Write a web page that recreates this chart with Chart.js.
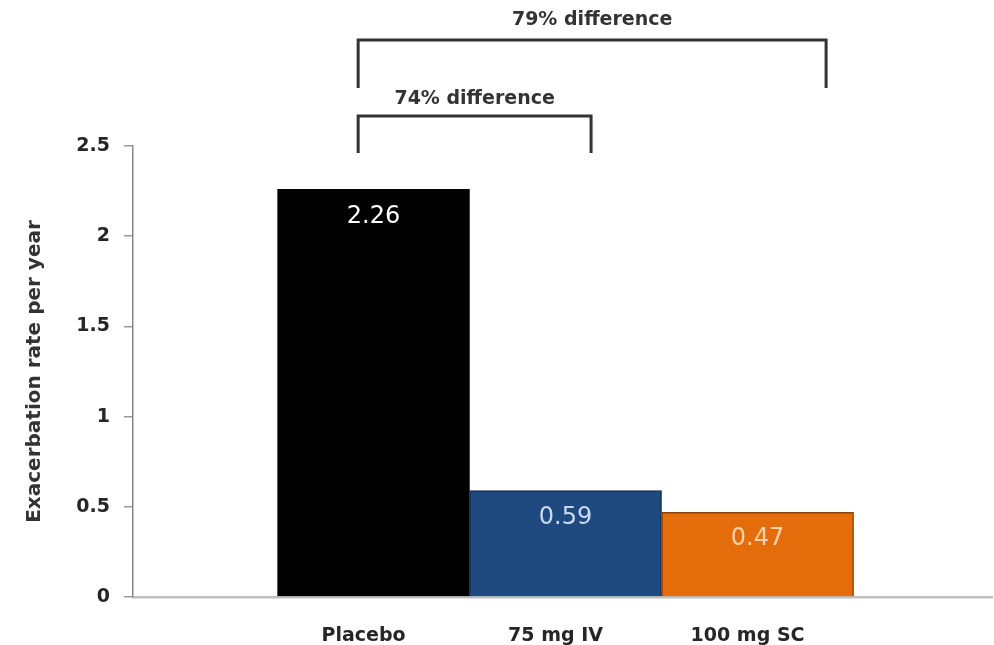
<!DOCTYPE html>
<html>
<head>
<meta charset="utf-8">
<script src="https://cdn.jsdelivr.net/npm/chart.js@4.4.0/dist/chart.umd.min.js"></script>
<style>
  html, body { margin: 0; padding: 0; background: #ffffff; }
  #wrap { width: 994px; height: 645px; position: relative; }
</style>
</head>
<body>
<div id="wrap"><canvas id="chart"></canvas></div>
<script>
// Annual exacerbation rate by treatment arm
const categories = ['Placebo', '75 mg IV', '100 mg SC'];
const rates = [2.26, 0.59, 0.47];
const yTickValues = [0, 0.5, 1, 1.5, 2, 2.5];
const comparisonLabels = ['74% difference', '79% difference'];

const FONT = "'DejaVu Sans', sans-serif";
const barFill = ['#000000', '#1F4A80', '#E46C0A'];
const barEdge = ['#000000', '#132F55', '#8A4206'];
const valueInk = ['#FFFFFF', '#C9D8EE', '#FBD2AA'];

// Comparison brackets, in axis units (x: category index, y: rate)
const brackets = [
  { label: comparisonLabels[0], from: -0.08, to: 1.133, top: 2.666, foot: 2.461, textY: 2.761 },
  { label: comparisonLabels[1], from: -0.08, to: 2.357, top: 3.088, foot: 2.822, textY: 3.198 }
];

const barValueLabels = {
  id: 'barValueLabels',
  afterDatasetsDraw(chart) {
    const { ctx } = chart;
    const meta = chart.getDatasetMeta(0);
    ctx.save();
    ctx.font = '24px ' + FONT;
    ctx.textAlign = 'center';
    ctx.textBaseline = 'middle';
    meta.data.forEach((bar, i) => {
      ctx.fillStyle = valueInk[i];
      ctx.fillText(rates[i].toFixed(2), bar.x, bar.y + 27);
    });
    ctx.restore();
  }
};

const comparisonBrackets = {
  id: 'comparisonBrackets',
  afterDraw(chart) {
    const { ctx, scales: { x, y } } = chart;
    ctx.save();
    ctx.strokeStyle = '#333333';
    ctx.lineWidth = 3;
    ctx.lineJoin = 'miter';
    ctx.fillStyle = '#333333';
    ctx.font = 'bold 19px ' + FONT;
    ctx.textAlign = 'center';
    ctx.textBaseline = 'middle';
    brackets.forEach(b => {
      const x0 = x.getPixelForValue(b.from);
      const x1 = x.getPixelForValue(b.to);
      const yt = y.getPixelForValue(b.top);
      const yf = y.getPixelForValue(b.foot);
      ctx.beginPath();
      ctx.moveTo(x0, yf);
      ctx.lineTo(x0, yt);
      ctx.lineTo(x1, yt);
      ctx.lineTo(x1, yf);
      ctx.stroke();
      ctx.fillText(b.label, (x0 + x1) / 2, y.getPixelForValue(b.textY));
    });
    ctx.restore();
  }
};

new Chart(document.getElementById('chart'), {
  type: 'bar',
  data: {
    datasets: [{
      data: rates.map((v, i) => ({ x: i, y: v })),
      backgroundColor: barFill,
      borderColor: barEdge,
      borderWidth: 1.5,
      categoryPercentage: 1,
      barPercentage: 1
    }]
  },
  options: {
    responsive: true,
    maintainAspectRatio: false,
    animation: false,
    layout: { padding: { top: 146, right: 2, left: 0, bottom: 0 } },
    plugins: {
      legend: { display: false },
      tooltip: { enabled: false }
    },
    scales: {
      x: {
        type: 'linear',
        offset: false,
        min: -1.2526,
        max: 3.221,
        afterBuildTicks: s => { s.ticks = categories.map((_, i) => ({ value: i })); },
        afterFit: s => { s.height = 48; },
        grid: { display: false },
        border: { display: true, color: '#BFBFBF', width: 2.5 },
        ticks: {
          callback: v => categories[v] ?? '',
          padding: 20,
          labelOffset: -10,
          maxRotation: 0,
          autoSkip: false,
          color: '#262626',
          font: { family: FONT, size: 19, weight: 'bold' }
        }
      },
      y: {
        min: 0,
        max: 2.5,
        afterBuildTicks: s => { s.ticks = yTickValues.map(v => ({ value: v })); },
        afterFit: s => { s.width = 133; },
        grid: {
          drawOnChartArea: false,
          drawTicks: true,
          tickLength: 9,
          color: '#9A9A9A',
          lineWidth: 1.5
        },
        border: { display: true, color: '#878787', width: 1.5 },
        ticks: {
          padding: 14,
          color: '#262626',
          font: { family: FONT, size: 19, weight: 'bold' },
          callback: v => String(v)
        },
        title: {
          display: true,
          text: 'Exacerbation rate per year',
          color: '#333333',
          font: { family: FONT, size: 20, weight: 'bold' },
          padding: { top: 23, bottom: 0 }
        }
      }
    }
  },
  plugins: [barValueLabels, comparisonBrackets]
});
</script>
</body>
</html>
